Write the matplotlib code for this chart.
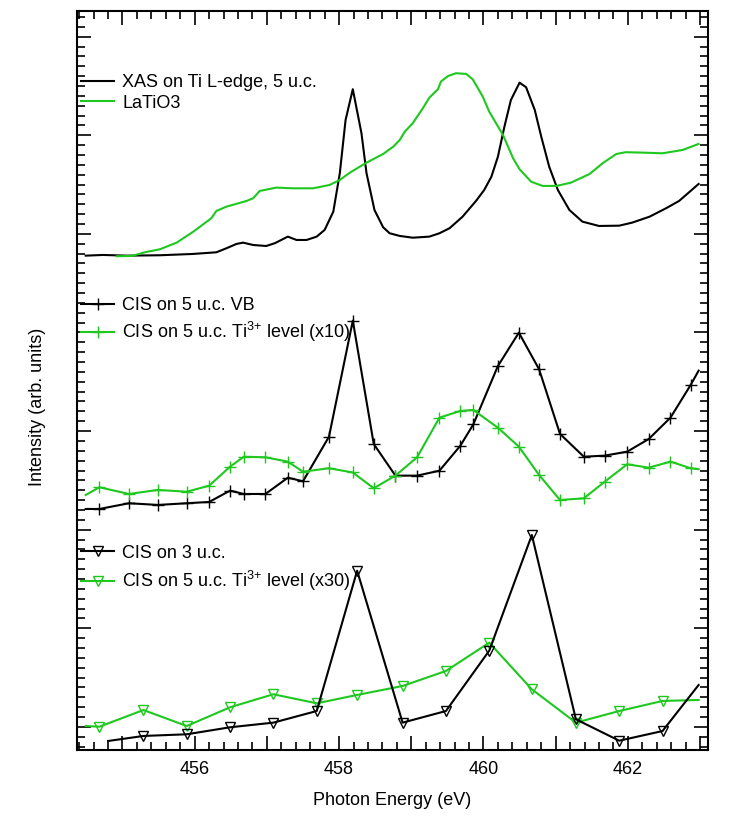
import matplotlib
matplotlib.use("Agg")
import matplotlib.pyplot as plt
from matplotlib.ticker import MultipleLocator, FuncFormatter

plt.rcParams['font.family'] = ['Liberation Sans', 'DejaVu Sans']
plt.rcParams['mathtext.default'] = 'regular'

green = '#1ec81e'

# top panel: XAS on Ti L-edge (5 u.c.) and LaTiO3 reference
xas_x = [454.49, 454.73, 455.06, 455.52, 455.97, 456.30, 456.44, 456.58, 456.67, 456.81,
         456.99, 457.11, 457.29, 457.41, 457.55, 457.69, 457.80, 457.92, 458.01, 458.09,
         458.19, 458.31, 458.38, 458.49, 458.61, 458.70, 458.84, 459.02, 459.25, 459.39,
         459.53, 459.71, 459.90, 460.01, 460.11, 460.20, 460.29, 460.38, 460.50, 460.59,
         460.71, 460.80, 460.91, 461.03, 461.19, 461.37, 461.60, 461.88, 462.06, 462.30,
         462.53, 462.71, 462.98]
xas_y = [4.779, 4.786, 4.779, 4.783, 4.796, 4.813, 4.854, 4.898, 4.911, 4.887,
         4.877, 4.905, 4.972, 4.938, 4.938, 4.972, 5.040, 5.225, 5.615, 6.155,
         6.467, 6.020, 5.615, 5.242, 5.067, 5.006, 4.979, 4.961, 4.972, 5.006,
         5.057, 5.174, 5.337, 5.445, 5.580, 5.783, 6.087, 6.358, 6.533, 6.487,
         6.257, 5.986, 5.682, 5.445, 5.242, 5.124, 5.080, 5.083, 5.114, 5.174,
         5.260, 5.334, 5.506]

lto_x = [454.92, 455.13, 455.31, 455.52, 455.75, 455.98, 456.23, 456.30, 456.44, 456.72,
         456.81, 456.90, 457.13, 457.36, 457.64, 457.87, 458.01, 458.15, 458.38, 458.61,
         458.75, 458.84, 458.91, 459.02, 459.16, 459.25, 459.37, 459.41, 459.51, 459.62,
         459.76, 459.85, 459.99, 460.08, 460.27, 460.41, 460.50, 460.66, 460.82, 461.01,
         461.21, 461.47, 461.65, 461.84, 461.97, 462.20, 462.48, 462.76, 462.98]
lto_y = [4.773, 4.776, 4.813, 4.844, 4.911, 5.022, 5.158, 5.232, 5.276, 5.334,
         5.361, 5.435, 5.469, 5.462, 5.462, 5.496, 5.547, 5.621, 5.722, 5.810,
         5.884, 5.952, 6.036, 6.122, 6.274, 6.381, 6.467, 6.544, 6.601, 6.629,
         6.622, 6.568, 6.392, 6.239, 6.003, 5.767, 5.655, 5.529, 5.486, 5.486,
         5.519, 5.607, 5.716, 5.810, 5.828, 5.824, 5.817, 5.851, 5.912]

# middle panel: CIS on 5 u.c.
cis5_x = [454.49, 454.68, 455.09, 455.49, 455.89, 456.20, 456.49, 456.68, 456.98, 457.29,
          457.50, 457.86, 458.19, 458.48, 458.78, 459.08, 459.39, 459.68, 459.86, 460.20,
          460.49, 460.77, 461.06, 461.39, 461.68, 461.99, 462.29, 462.59, 462.87, 462.98]
vb_y = [2.210, 2.210, 2.268, 2.251, 2.268, 2.281, 2.396, 2.362, 2.362, 2.527,
        2.491, 2.943, 4.120, 2.869, 2.548, 2.548, 2.598, 2.852, 3.069, 3.660,
        3.998, 3.627, 2.971, 2.740, 2.751, 2.791, 2.920, 3.136, 3.468, 3.613]
ti10_y = [2.352, 2.430, 2.362, 2.403, 2.385, 2.446, 2.639, 2.740, 2.734, 2.690,
          2.588, 2.623, 2.580, 2.420, 2.548, 2.734, 3.136, 3.204, 3.214, 3.034,
          2.842, 2.555, 2.301, 2.318, 2.487, 2.663, 2.629, 2.690, 2.623, 2.613]

# bottom panel: CIS on 3 u.c. and Ti3+ level (x30)
cis3_x = [454.80, 455.29, 455.89, 456.49, 457.09, 457.69, 458.25, 458.88, 459.48, 460.08,
          460.67, 461.28, 461.88, 462.48, 462.98]
cis3_y = [-0.143, -0.092, -0.075, -0.004, 0.043, 0.161, 1.584, 0.043, 0.161, 0.773,
          1.946, 0.077, -0.140, -0.042, 0.425]
ti30_x = [454.49, 454.68, 455.29, 455.89, 456.49, 457.09, 457.69, 458.25, 458.88, 459.48,
          460.08, 460.67, 461.28, 461.88, 462.48, 462.98]
ti30_y = [0.009, 0.002, 0.171, 0.009, 0.199, 0.331, 0.239, 0.324, 0.415, 0.567,
          0.854, 0.381, 0.043, 0.161, 0.263, 0.273]

fig = plt.figure(figsize=(7.47, 8.15), dpi=100)
ax = fig.add_axes([0.1031, 0.0798, 0.8447, 0.9067])

lw = 1.5
l1, = ax.plot(xas_x, xas_y, color='k', lw=lw, label='XAS on Ti L-edge, 5 u.c.')
l2, = ax.plot(lto_x, lto_y, color=green, lw=lw, label='LaTiO3')

l3, = ax.plot(cis5_x, vb_y, color='k', lw=lw, marker='+', ms=9, mew=1,
              markevery=slice(1, -1), label='CIS on 5 u.c. VB')
l4, = ax.plot(cis5_x, ti10_y, color=green, lw=lw, marker='+', ms=9, mew=1,
              markevery=slice(1, -1), label='CIS on 5 u.c. Ti$^{3{+}}$ level (x10)')

l6, = ax.plot(ti30_x, ti30_y, color=green, lw=lw, marker='v', ms=7, mew=1,
              mfc='none', markevery=slice(1, -1), label='CIS on 5 u.c. Ti$^{3{+}}$ level (x30)')
l5, = ax.plot(cis3_x, cis3_y, color='k', lw=lw, marker='v', ms=7, mew=1,
              mfc='none', markevery=slice(1, -1), label='CIS on 3 u.c.')

ax.set_xlim(454.37, 463.11)
ax.set_ylim(-0.234, 7.26)

leg_kw = dict(loc='upper left', frameon=False, fontsize=13, handlelength=1.85,
              handletextpad=0.45, borderaxespad=0, borderpad=0, numpoints=1)
lg1 = ax.legend(handles=[l1, l2], bbox_to_anchor=(0.006, 0.9145), labelspacing=0.2, **leg_kw)
ax.add_artist(lg1)
lg2 = ax.legend(handles=[l3, l4], bbox_to_anchor=(0.006, 0.613), labelspacing=0.35, **leg_kw)
ax.add_artist(lg2)
ax.legend(handles=[l5, l6], bbox_to_anchor=(0.006, 0.278), labelspacing=0.4, **leg_kw)

ax.xaxis.set_major_locator(MultipleLocator(1))
ax.xaxis.set_minor_locator(MultipleLocator(0.2))
ax.xaxis.set_major_formatter(FuncFormatter(lambda v, p: '%d' % round(v) if round(v) % 2 == 0 else ''))
ax.yaxis.set_major_locator(MultipleLocator(1))
ax.yaxis.set_minor_locator(MultipleLocator(0.1))
ax.tick_params(which='both', direction='in', top=True, right=True, labelleft=False,
               labelsize=13, pad=8)
ax.tick_params(which='major', length=10, width=1.2)
ax.tick_params(which='minor', length=5.5, width=1.2)
for s in ax.spines.values():
    s.set_linewidth(1.5)

ax.set_xlabel('Photon Energy (eV)', fontsize=13, labelpad=10)
ax.set_ylabel('Intensity (arb. units)', fontsize=13)
ax.yaxis.set_label_coords(-0.049, 0.464)

fig.savefig('out.png', dpi=100)
